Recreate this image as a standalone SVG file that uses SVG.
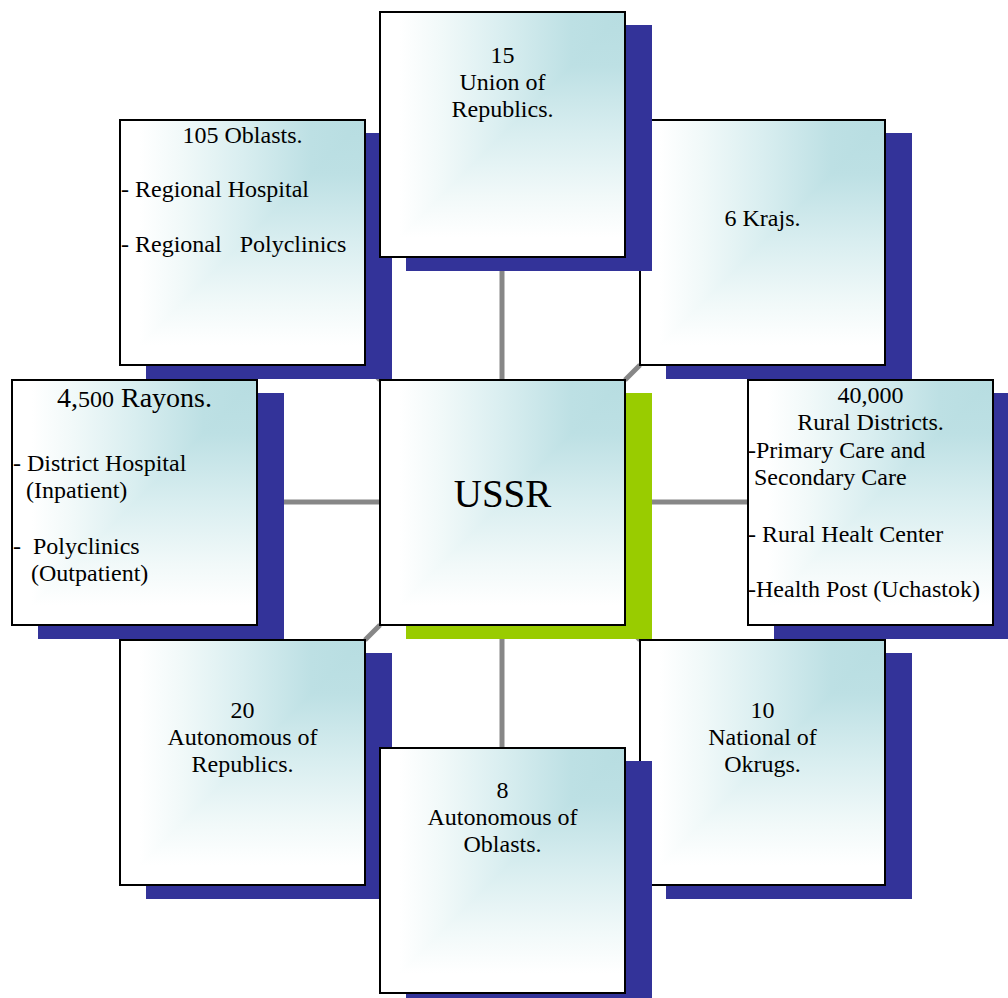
<svg xmlns="http://www.w3.org/2000/svg" width="1008" height="998" viewBox="0 0 1008 998" font-family="'Liberation Serif', 'Times New Roman', 'DejaVu Serif', serif">
<style>
.sh{fill:#333399}
.shg{fill:#99CC00}
.bh{fill:url(#gh)}
.bv{fill:url(#gv)}
.bd{fill:none;stroke:#000;stroke-width:2}
text{font-family:'Liberation Serif','Times New Roman','DejaVu Serif',serif;font-size:24px;fill:#000;white-space:pre}
.c{text-anchor:middle}
.cn{stroke:#878787;stroke-width:5;fill:none}
</style>
<defs>
<linearGradient id="gh" x1="1" y1="0" x2="0" y2="0">
<stop offset="0" stop-color="#B7DDE1"/>
<stop offset="0.22" stop-color="#BDE0E4"/>
<stop offset="0.5" stop-color="#D9EEF0"/>
<stop offset="0.75" stop-color="#F1F9F9"/>
<stop offset="0.92" stop-color="#FFFFFF"/>
</linearGradient>
<linearGradient id="gv" x1="0" y1="0" x2="0" y2="1">
<stop offset="0" stop-color="#B7DDE1"/>
<stop offset="0.22" stop-color="#BDE0E4"/>
<stop offset="0.5" stop-color="#D9EEF0"/>
<stop offset="0.75" stop-color="#F1F9F9"/>
<stop offset="0.92" stop-color="#FFFFFF"/>
</linearGradient>
</defs>
<rect width="1008" height="998" fill="#fff"/>
<g id="connectors">
<line class="cn" x1="502" y1="257" x2="502" y2="380"/>
<line class="cn" x1="502" y1="625" x2="502" y2="748"/>
<line class="cn" x1="257" y1="502" x2="380" y2="502"/>
<line class="cn" x1="625" y1="502" x2="748" y2="502"/>
<line class="cn" x1="380" y1="380" x2="365" y2="365"/>
<line class="cn" x1="625" y1="380" x2="640" y2="365"/>
<line class="cn" x1="380" y1="625" x2="365" y2="640"/>
<line class="cn" x1="625" y1="625" x2="640" y2="640"/>
</g>
<g id="oblasts" font-family="Liberation Serif">
<rect class="sh" x="146" y="133" width="246" height="246"/>
<rect class="bh" x="120" y="120" width="245" height="245"/>
<polygon class="bv" points="365,120 365,365 120,365"/>
<rect class="bd" x="120" y="120" width="245" height="245"/>
<text class="c" x="242.5" y="143">105 Oblasts.</text>
<text x="121" y="197">- Regional Hospital</text>
<text x="121" y="252">- Regional   Polyclinics</text>
</g>
<g id="krajs" font-family="Liberation Serif">
<rect class="sh" x="666" y="133" width="246" height="246"/>
<rect class="bh" x="640" y="120" width="245" height="245"/>
<polygon class="bv" points="885,120 885,365 640,365"/>
<rect class="bd" x="640" y="120" width="245" height="245"/>
<text class="c" x="762.5" y="226">6 Krajs.</text>
</g>
<g id="rayons" font-family="Liberation Serif">
<rect class="sh" x="38" y="393" width="246" height="246"/>
<rect class="bh" x="12" y="380" width="245" height="245"/>
<polygon class="bv" points="257,380 257,625 12,625"/>
<rect class="bd" x="12" y="380" width="245" height="245"/>
<text class="c" x="134.5" y="407" style="font-size:28px">4,<tspan style="font-size:24px">500</tspan> Rayons.</text>
<text x="13" y="471">- District Hospital</text>
<text x="26" y="498">(Inpatient)</text>
<text x="13" y="554">-  Polyclinics</text>
<text x="31" y="581">(Outpatient)</text>
</g>
<g id="rural" font-family="Liberation Serif">
<rect class="sh" x="774" y="393" width="246" height="246"/>
<rect class="bh" x="748" y="380" width="245" height="245"/>
<polygon class="bv" points="993,380 993,625 748,625"/>
<rect class="bd" x="748" y="380" width="245" height="245"/>
<text class="c" x="870.5" y="403">40,000</text>
<text class="c" x="870.5" y="430">Rural Districts.</text>
<text x="748" y="458">-Primary Care and</text>
<text x="754" y="485">Secondary Care</text>
<text x="748" y="542">- Rural Healt Center</text>
<text x="748" y="597">-Health Post (Uchastok)</text>
</g>
<g id="ussr" font-family="Liberation Serif">
<rect class="shg" x="406" y="393" width="246" height="246"/>
<rect class="bh" x="380" y="380" width="245" height="245"/>
<polygon class="bv" points="625,380 625,625 380,625"/>
<rect class="bd" x="380" y="380" width="245" height="245"/>
<text class="c" x="502.5" y="507" style="font-size:39px">USSR</text>
</g>
<g id="autonomous-republics" font-family="Liberation Serif">
<rect class="sh" x="146" y="653" width="246" height="246"/>
<rect class="bh" x="120" y="640" width="245" height="245"/>
<polygon class="bv" points="365,640 365,885 120,885"/>
<rect class="bd" x="120" y="640" width="245" height="245"/>
<text class="c" x="242.5" y="718">20</text>
<text class="c" x="242.5" y="745">Autonomous of</text>
<text class="c" x="242.5" y="772">Republics.</text>
</g>
<g id="national-okrugs" font-family="Liberation Serif">
<rect class="sh" x="666" y="653" width="246" height="246"/>
<rect class="bh" x="640" y="640" width="245" height="245"/>
<polygon class="bv" points="885,640 885,885 640,885"/>
<rect class="bd" x="640" y="640" width="245" height="245"/>
<text class="c" x="762.5" y="718">10</text>
<text class="c" x="762.5" y="745">National of</text>
<text class="c" x="762.5" y="772">Okrugs.</text>
</g>
<g id="union-republics" font-family="Liberation Serif">
<rect class="sh" x="406" y="25" width="246" height="246"/>
<rect class="bh" x="380" y="12" width="245" height="245"/>
<polygon class="bv" points="625,12 625,257 380,257"/>
<rect class="bd" x="380" y="12" width="245" height="245"/>
<text class="c" x="502.5" y="63">15</text>
<text class="c" x="502.5" y="90">Union of</text>
<text class="c" x="502.5" y="117">Republics.</text>
</g>
<g id="autonomous-oblasts" font-family="Liberation Serif">
<rect class="sh" x="406" y="761" width="246" height="246"/>
<rect class="bh" x="380" y="748" width="245" height="245"/>
<polygon class="bv" points="625,748 625,993 380,993"/>
<rect class="bd" x="380" y="748" width="245" height="245"/>
<text class="c" x="502.5" y="798">8</text>
<text class="c" x="502.5" y="825">Autonomous of</text>
<text class="c" x="502.5" y="852">Oblasts.</text>
</g>
</svg>
